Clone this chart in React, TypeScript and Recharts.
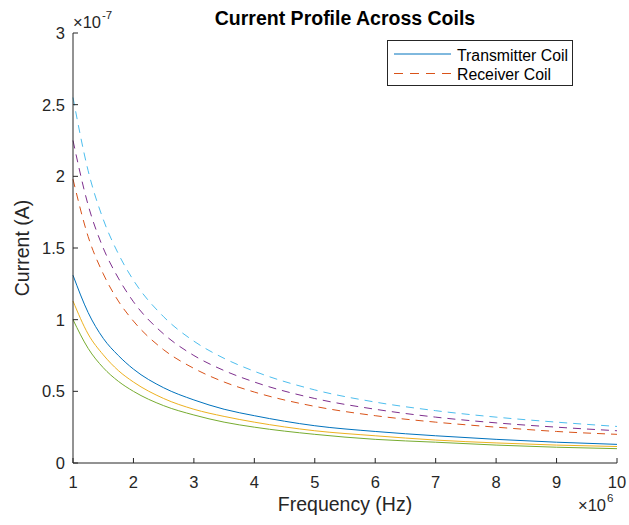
import React from 'react';
import { LineChart, Line, XAxis, YAxis } from 'recharts';

// frequency in units of 1e6 Hz, current in units of 1e-7 A
const freq = [1, 1.25, 1.5, 1.75, 2, 2.5, 3, 3.5, 4, 5, 6, 7, 8, 9, 10];
const txBlue = [1.31, 1.05, 0.87, 0.75, 0.655, 0.525, 0.44, 0.375, 0.33, 0.26, 0.22, 0.19, 0.165, 0.145, 0.13];
const rxOrange = [1.98, 1.58, 1.32, 1.13, 0.99, 0.79, 0.66, 0.565, 0.495, 0.395, 0.33, 0.285, 0.25, 0.22, 0.2];
const txYellow = [1.13, 0.9, 0.755, 0.645, 0.565, 0.45, 0.375, 0.325, 0.285, 0.225, 0.19, 0.16, 0.14, 0.125, 0.115];
const rxPurple = [2.25, 1.8, 1.5, 1.29, 1.125, 0.9, 0.75, 0.645, 0.565, 0.45, 0.375, 0.32, 0.28, 0.25, 0.225];
const txGreen = [1.0, 0.8, 0.665, 0.57, 0.5, 0.4, 0.335, 0.285, 0.25, 0.2, 0.165, 0.145, 0.125, 0.11, 0.1];
const rxCyan = [2.55, 2.04, 1.7, 1.46, 1.275, 1.02, 0.85, 0.73, 0.64, 0.51, 0.425, 0.365, 0.32, 0.285, 0.255];

const xTicks = [1, 2, 3, 4, 5, 6, 7, 8, 9, 10];
const yTicks = [0, 0.5, 1, 1.5, 2, 2.5, 3];

const data = freq.map((f, i) => ({
  f,
  tx1: txBlue[i],
  rx1: rxOrange[i],
  tx2: txYellow[i],
  rx2: rxPurple[i],
  tx3: txGreen[i],
  rx3: rxCyan[i],
}));

const FONT = '"Liberation Sans", Arial, sans-serif';
const INK = '#262626';
const DASH = '8 6';

const BottomTick = (props: any) => {
  const { x, y, payload } = props;
  return (
    <g>
      <line x1={x} y1={y} x2={x} y2={y - 5} stroke={INK} />
      <text x={x} y={y + 25} textAnchor="middle" fill={INK} fontSize={16.5} fontFamily={FONT}>
        {payload.value}
      </text>
    </g>
  );
};

const LeftTick = (props: any) => {
  const { x, y, payload } = props;
  return (
    <g>
      <line x1={x} y1={y} x2={x + 5} y2={y} stroke={INK} />
      <text x={x - 8} y={y + 6} textAnchor="end" fill={INK} fontSize={16.5} fontFamily={FONT}>
        {payload.value}
      </text>
    </g>
  );
};

const TopTick = (props: any) => {
  const { x, y } = props;
  return <line x1={x} y1={y} x2={x} y2={y + 5} stroke={INK} />;
};

const RightTick = (props: any) => {
  const { x, y } = props;
  return <line x1={x} y1={y} x2={x - 5} y2={y} stroke={INK} />;
};

export default function App() {
  return (
    <div style={{ position: 'absolute', left: 0, top: 0, width: 629, height: 525, background: '#fff' }}>
      <LineChart width={629} height={525} data={data} margin={{ top: 33, right: 12, bottom: 12, left: 13 }}>
        <XAxis
          dataKey="f"
          type="number"
          domain={[1, 10]}
          ticks={xTicks}
          height={50}
          tickSize={0}
          tickMargin={0}
          tickLine={false}
          stroke={INK}
          tick={<BottomTick />}
          interval={0}
        />
        <XAxis
          xAxisId="top"
          orientation="top"
          dataKey="f"
          type="number"
          domain={[1, 10]}
          ticks={xTicks}
          height={0}
          tickSize={0}
          tickMargin={0}
          tickLine={false}
          stroke={INK}
          tick={<TopTick />}
          interval={0}
        />
        <YAxis
          type="number"
          domain={[0, 3]}
          ticks={yTicks}
          width={60}
          tickSize={0}
          tickMargin={0}
          tickLine={false}
          stroke={INK}
          tick={<LeftTick />}
          interval={0}
        />
        <YAxis
          yAxisId="right"
          orientation="right"
          type="number"
          domain={[0, 3]}
          ticks={yTicks}
          width={0}
          tickSize={0}
          tickMargin={0}
          tickLine={false}
          stroke={INK}
          tick={<RightTick />}
          interval={0}
        />
        <Line type="monotone" dataKey="tx1" stroke="#0072BD" strokeWidth={1} dot={false} isAnimationActive={false} />
        <Line type="monotone" dataKey="rx1" stroke="#D95319" strokeWidth={1} strokeDasharray={DASH} dot={false} isAnimationActive={false} />
        <Line type="monotone" dataKey="tx2" stroke="#EDB120" strokeWidth={1} dot={false} isAnimationActive={false} />
        <Line type="monotone" dataKey="rx2" stroke="#7E2F8E" strokeWidth={1} strokeDasharray={DASH} dot={false} isAnimationActive={false} />
        <Line type="monotone" dataKey="tx3" stroke="#77AC30" strokeWidth={1} dot={false} isAnimationActive={false} />
        <Line type="monotone" dataKey="rx3" stroke="#4DBEEE" strokeWidth={1} strokeDasharray={DASH} dot={false} isAnimationActive={false} />
      </LineChart>

      <svg width={629} height={525} style={{ position: 'absolute', left: 0, top: 0, pointerEvents: 'none' }} fontFamily={FONT}>
        <text x={345} y={25} textAnchor="middle" fontSize={19.5} fontWeight="bold" fill="#000">
          Current Profile Across Coils
        </text>
        <text x={345} y={511} textAnchor="middle" fontSize={19.5} fill={INK}>
          Frequency (Hz)
        </text>
        <text x={29} y={248} textAnchor="middle" fontSize={19.5} fill={INK} transform="rotate(-90 29 248)">
          Current (A)
        </text>
        <text x={73} y={28} fontSize={16.5} fill={INK}>
          ×10
          <tspan dx={1} dy={-9} fontSize={11.5}>-7</tspan>
        </text>
        <text x={578} y={511} fontSize={16.5} fill={INK}>
          ×10
          <tspan dx={1} dy={-9} fontSize={11.5}>6</tspan>
        </text>

        <rect x={387.5} y={40.5} width={185} height={45} fill="#fff" stroke={INK} strokeWidth={1} />
        <line x1={394} y1={54} x2={451} y2={54} stroke="#0072BD" strokeWidth={1} />
        <text x={457} y={61} fontSize={16} fill="#000" textLength={111} lengthAdjust="spacingAndGlyphs">
          Transmitter Coil
        </text>
        <line x1={394} y1={73.5} x2={451} y2={73.5} stroke="#D95319" strokeWidth={1} strokeDasharray="9 7" />
        <text x={457} y={80} fontSize={16} fill="#000" textLength={94} lengthAdjust="spacingAndGlyphs">
          Receiver Coil
        </text>
      </svg>
    </div>
  );
}
